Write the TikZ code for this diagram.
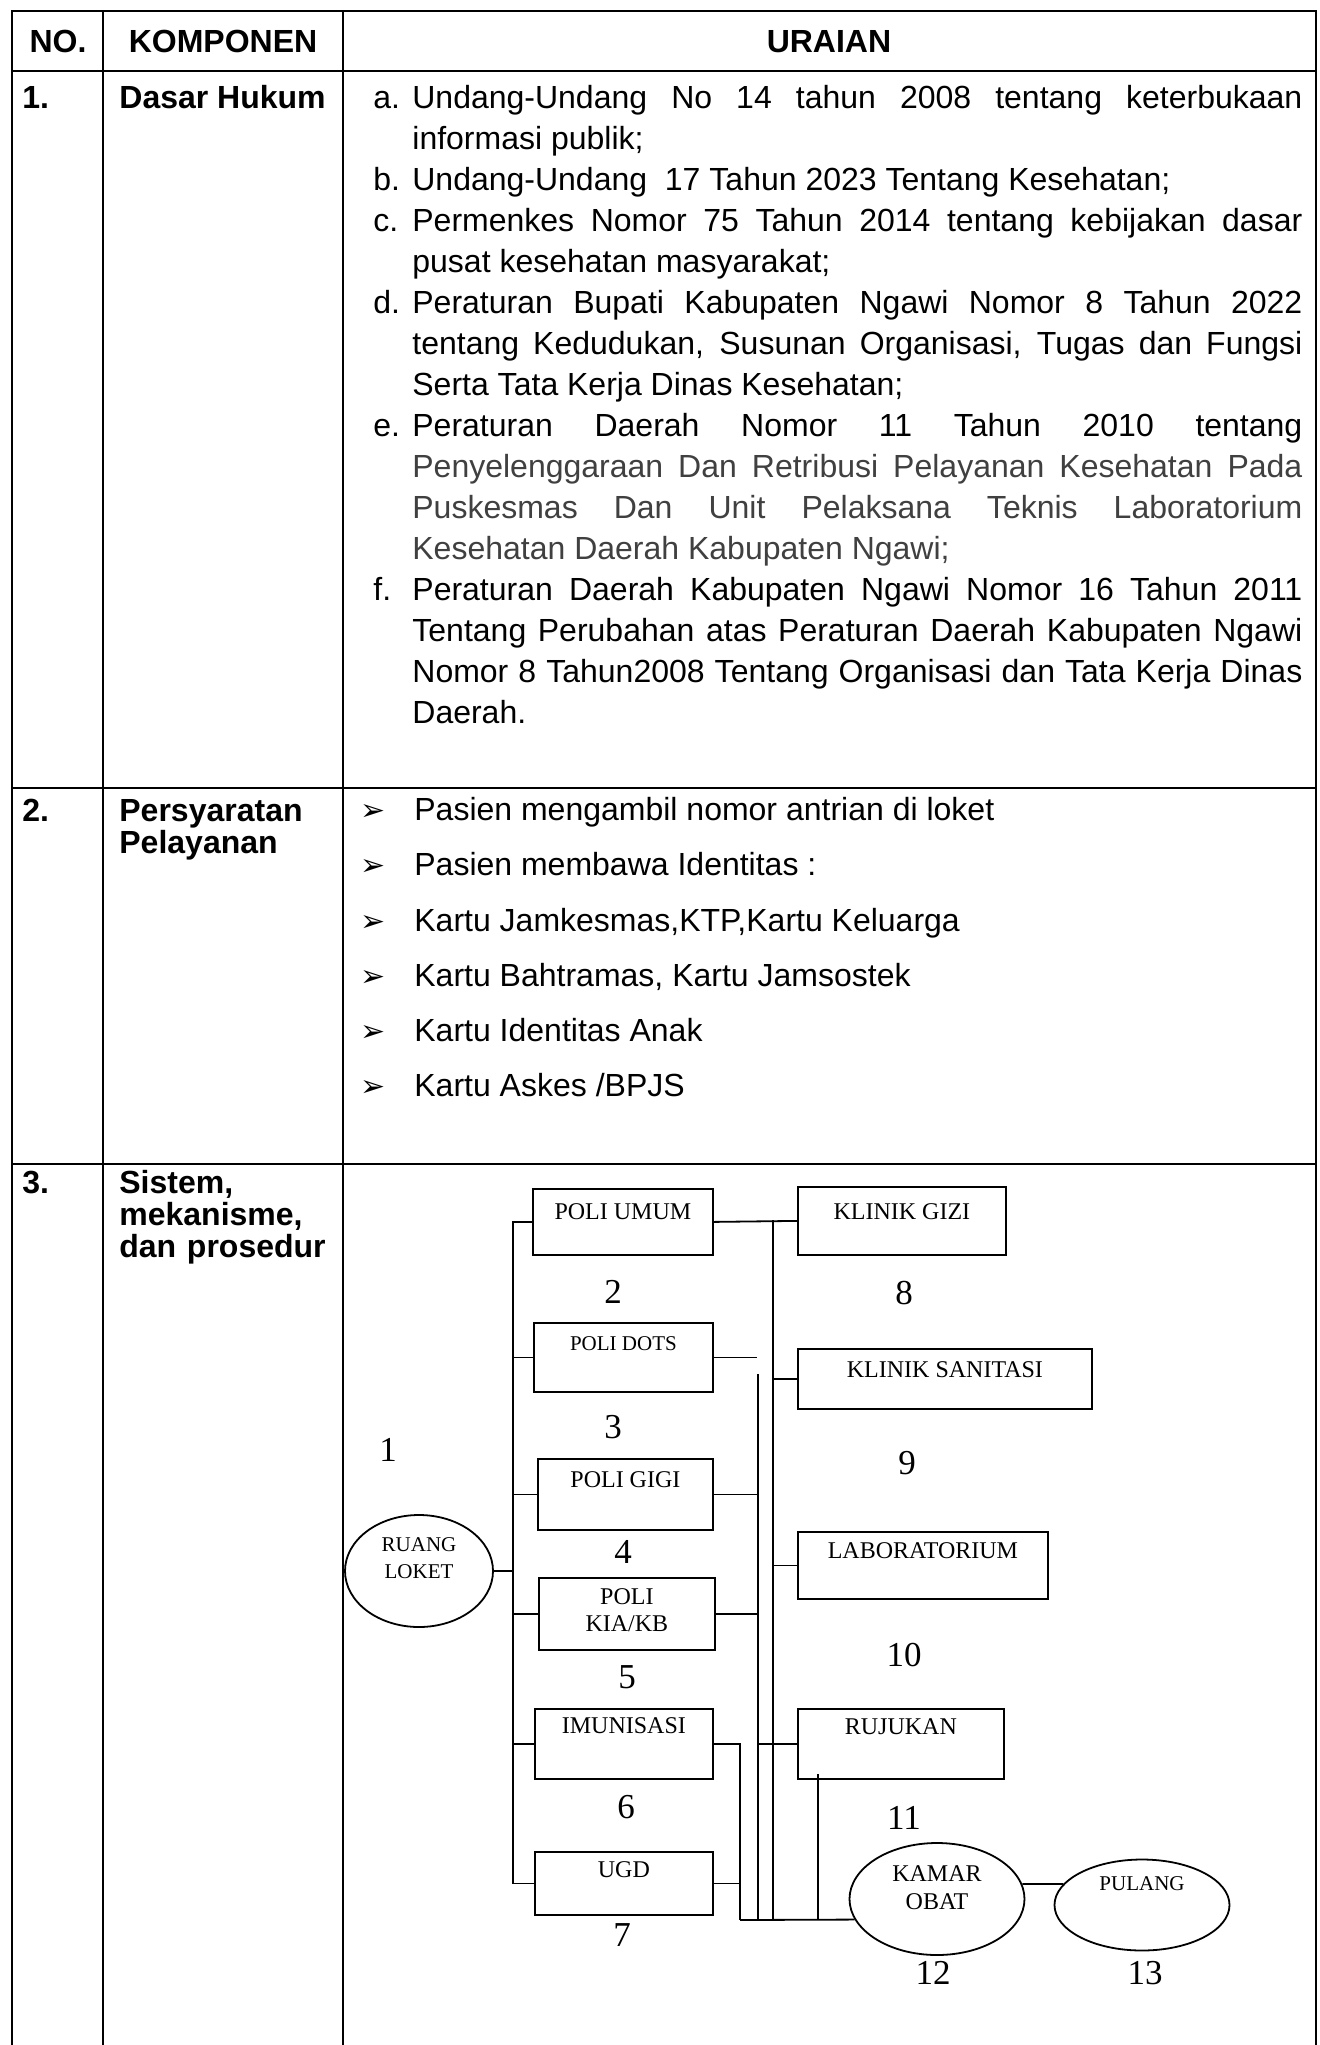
\documentclass[tikz,border=0pt]{standalone}
\usepackage{fontspec}
\setmainfont{Liberation Sans}
\newfontfamily\roomfont{Liberation Serif}
\newfontfamily\bulletfont{DejaVu Sans}
\usetikzlibrary{shapes.geometric}
\newcommand{\reqarrow}{\makebox[27pt][l]{\bulletfont\fontsize{15}{15}\selectfont ➢}}

\begin{document}
\begin{tikzpicture}[x=0.5pt, y=-0.5pt,
	tableline/.style={line width=1.2pt},
	cell/.style={inner sep=0pt, font=\fontsize{16}{20.5}\selectfont},
	headcell/.style={inner sep=0pt, font=\fontsize{16}{16}\selectfont\bfseries},
	room/.style={rectangle, draw=black, line width=0.9pt, inner sep=0pt, anchor=north west, font=\roomfont\fontsize{12}{13.5}\selectfont},
	hall/.style={ellipse, draw=black, line width=0.9pt, inner sep=0pt, align=center, font=\roomfont\fontsize{12}{14}\selectfont},
	roomno/.style={inner sep=0pt, font=\roomfont\fontsize{17.5}{20}\selectfont},
	wire/.style={line width=0.9pt}]
	\fill[white] (0,0) rectangle (1320,2045);
	\useasboundingbox (0,0) rectangle (1320,2045);

	% table
	\draw[tableline] (12,2045) -- (12,11) -- (1316,11) -- (1316,2045);
	\draw[tableline] (103,11) -- (103,2045);
	\draw[tableline] (343,11) -- (343,2045);
	\draw[tableline] (12,71) -- (1316,71);
	\draw[tableline] (12,788) -- (1316,788);
	\draw[tableline] (12,1164) -- (1316,1164);

	\node[headcell, anchor=base] (hno) at (58,52) {NO.};
	\node[headcell, anchor=base] (hkomponen) at (223,52) {KOMPONEN};
	\node[headcell, anchor=base] (huraian) at (829,52) {URAIAN};

	% row 1
	\node[headcell, anchor=base west] (no1) at (22,108) {1.};
	\node[headcell, anchor=base west] (komponen1) at (119,108) {Dasar Hukum};
	\node[cell, anchor=base west, text width=464.5pt, align=justify] (dasar) at (373,108) {\tolerance=9999
		\hangindent=19.5pt\hangafter=1\makebox[19.5pt][l]{a.}Undang-Undang No 14 tahun 2008 tentang keterbukaan\linebreak informasi publik;\par
		\hangindent=19.5pt\hangafter=1\makebox[19.5pt][l]{b.}Undang-Undang\ \ 17 Tahun 2023 Tentang Kesehatan;\par
		\hangindent=19.5pt\hangafter=1\makebox[19.5pt][l]{c.}Permenkes Nomor 75 Tahun 2014 tentang kebijakan dasar\linebreak pusat kesehatan masyarakat;\par
		\hangindent=19.5pt\hangafter=1\makebox[19.5pt][l]{d.}Peraturan Bupati Kabupaten Ngawi Nomor 8 Tahun 2022\linebreak tentang Kedudukan, Susunan Organisasi, Tugas dan Fungsi\linebreak Serta Tata Kerja Dinas Kesehatan;\par
		\hangindent=19.5pt\hangafter=1\makebox[19.5pt][l]{e.}Peraturan Daerah Nomor 11 Tahun 2010 tentang\linebreak {\color{black!75}Penyelenggaraan Dan Retribusi Pelayanan Kesehatan Pada\linebreak Puskesmas Dan Unit Pelaksana Teknis Laboratorium\linebreak Kesehatan Daerah Kabupaten Ngawi;}\par
		\hangindent=19.5pt\hangafter=1\makebox[19.5pt][l]{f.}Peraturan Daerah Kabupaten Ngawi Nomor 16 Tahun 2011\linebreak Tentang Perubahan atas Peraturan Daerah Kabupaten Ngawi\linebreak Nomor 8 Tahun2008 Tentang Organisasi dan Tata Kerja Dinas\linebreak Daerah.\par};

	% row 2
	\node[headcell, anchor=base west] (no2) at (22,821) {2.};
	\node[headcell, anchor=base west, text width=110pt, align=left] (komponen2) at (119,821) {Persyaratan\\Pelayanan};
	\node[cell, anchor=base west] (req1) at (360,820) {\reqarrow Pasien mengambil nomor antrian di loket};
	\node[cell, anchor=base west] (req2) at (360,875) {\reqarrow Pasien membawa Identitas :};
	\node[cell, anchor=base west] (req3) at (360,931) {\reqarrow Kartu Jamkesmas,KTP,Kartu Keluarga};
	\node[cell, anchor=base west] (req4) at (360,986) {\reqarrow Kartu Bahtramas, Kartu Jamsostek};
	\node[cell, anchor=base west] (req5) at (360,1041) {\reqarrow Kartu Identitas Anak};
	\node[cell, anchor=base west] (req6) at (360,1096) {\reqarrow Kartu Askes /BPJS};

	% row 3
	\node[headcell, anchor=base west] (no3) at (22,1193) {3.};
	\node[headcell, anchor=base west, text width=110pt, align=left] (komponen3) at (119,1193) {Sistem,\\mekanisme,\\dan prosedur};

	% flow of the puskesmas
	\node[hall, minimum width=74pt, minimum height=56pt, text width=40pt, text height=7.5pt, text depth=27.5pt, font=\roomfont\fontsize{10.5}{13.5}\selectfont] (loket) at (419,1571) {RUANG\\LOKET};
	\node[room, minimum width=90pt, text height=15.5pt, text depth=17.5pt] (poliumum) at (532,1188) {POLI UMUM};
	\node[room, minimum width=89.5pt, text height=14pt, text depth=20.5pt, font=\roomfont\fontsize{10.5}{13.5}\selectfont] (polidots) at (533,1322) {POLI DOTS};
	\node[room, minimum width=87.5pt, text height=14.5pt, text depth=21pt] (poligigi) at (537,1458) {POLI GIGI};
	\node[room, text width=88pt, align=center, text height=13.5pt, text depth=22.5pt] (polikia) at (538,1577) {POLI\\KIA/KB};
	\node[room, minimum width=89pt, text height=12.5pt, text depth=22.5pt] (imunisasi) at (534,1708) {IMUNISASI};
	\node[room, minimum width=89pt, text height=13pt, text depth=18.5pt] (ugd) at (534,1851) {UGD};
	\node[room, minimum width=104pt, text height=16.5pt, text depth=17.5pt] (klinikgizi) at (797,1186) {KLINIK GIZI};
	\node[room, minimum width=147pt, text height=14.5pt, text depth=15.5pt] (sanitasi) at (797,1348) {KLINIK SANITASI};
	\node[room, minimum width=125pt, text height=13.5pt, text depth=20pt] (lab) at (797,1531) {LABORATORIUM};
	\node[room, minimum width=103pt, text height=13pt, text depth=22pt] (rujukan) at (797,1708) {RUJUKAN};
	\node[hall, minimum width=87.5pt, minimum height=56pt, text width=50pt, text height=8.5pt, text depth=26.5pt] (kamar) at (937,1899) {KAMAR\\OBAT};
	\node[hall, minimum width=87.5pt, minimum height=45.5pt, text height=7.5pt, text depth=22.5pt, font=\roomfont\fontsize{10.5}{13.5}\selectfont] (pulang) at (1142,1905) {PULANG};

	\node[roomno] (lbl1) at (388,1450) {1};
	\node[roomno] (lbl2) at (613,1292) {2};
	\node[roomno] (lbl3) at (613,1427) {3};
	\node[roomno] (lbl4) at (623,1552) {4};
	\node[roomno] (lbl5) at (627,1677) {5};
	\node[roomno] (lbl6) at (626,1807) {6};
	\node[roomno] (lbl7) at (622,1935) {7};
	\node[roomno] (lbl8) at (904,1293) {8};
	\node[roomno] (lbl9) at (907,1463) {9};
	\node[roomno] (lbl10) at (904,1655) {10};
	\node[roomno] (lbl11) at (904,1818) {11};
	\node[roomno] (lbl12) at (933,1973) {12};
	\node[roomno] (lbl13) at (1145,1973) {13};

	\coordinate (lbus) at (513,1221);
	\coordinate (dotsend) at (757,1357);
	\coordinate (mbus) at (758,1374);
	\coordinate (rbus) at (773,1220);
	\coordinate (ibus) at (740,1920);
	\coordinate (rujdrop) at (818,1774);

	\draw[wire] (poliumum.west) -- (poliumum.west -| lbus) -- (ugd.west -| lbus) -- (ugd.west);
	\draw[wire] (polidots.west) -- (polidots.west -| lbus);
	\draw[wire] (poligigi.west) -- (poligigi.west -| lbus);
	\draw[wire] (polikia.west) -- (polikia.west -| lbus);
	\draw[wire] (imunisasi.west) -- (imunisasi.west -| lbus);
	\draw[wire] (loket.east) -- (loket.east -| lbus);
	\draw[wire] (poliumum.east) -- (klinikgizi.west);
	\draw[wire] (polidots.east) -- (polidots.east -| dotsend);
	\draw[wire] (poligigi.east) -- (poligigi.east -| mbus);
	\draw[wire] (polikia.east) -- (polikia.east -| mbus);
	\draw[wire] (imunisasi.east) -| (ibus);
	\draw[wire] (ugd.east) -- (ugd.east -| ibus);
	\draw[wire] (mbus) -- (mbus |- ibus);
	\draw[wire] (rbus) -- (rbus |- ibus);
	\draw[wire] (sanitasi.west) -- (sanitasi.west -| rbus);
	\draw[wire] (lab.west) -- (lab.west -| rbus);
	\draw[wire] (rujukan.west) -- (rujukan.west -| mbus);
	\draw[wire] (rujdrop) -- (rujdrop |- ibus);
	\draw[wire] (ibus) -- (kamar.194.5);
	\draw[wire] (kamar.10) -- (pulang.165);
\end{tikzpicture}
\end{document}
